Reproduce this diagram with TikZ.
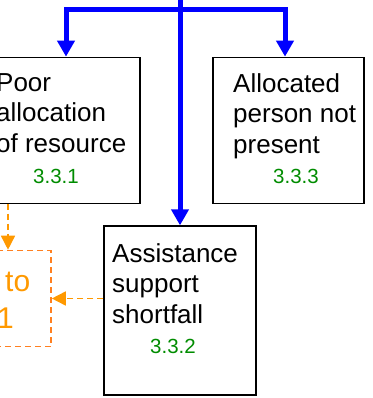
\documentclass[tikz,border=0pt]{standalone}
\usepackage{fontspec}
\setmainfont{Liberation Sans}
\usetikzlibrary{arrows.meta}
\definecolor{flowblue}{RGB}{0,0,255}
\definecolor{refgreen}{RGB}{0,140,0}
\definecolor{linkorange}{RGB}{255,153,0}
\definecolor{linkedge}{RGB}{255,128,32}
\begin{document}
\begin{tikzpicture}[x=1pt,y=-1pt,
    cause/.style={draw, line width=1.3pt, inner sep=0pt},
    linkbox/.style={draw=linkedge, line width=1.6pt, dash pattern=on 6pt off 4pt, inner sep=0pt},
    body/.style={anchor=north west, align=left, inner sep=0pt, font=\fontsize{26}{30.5}\selectfont},
    refno/.style={anchor=base, inner sep=0pt, text=refgreen, font=\fontsize{20.5}{24}\selectfont},
    reftxt/.style={anchor=base west, inner sep=0pt, text=linkorange, font=\fontsize{30}{36}\selectfont},
    flow/.style={draw=flowblue, line width=5pt, -{Triangle[width=17pt,length=16pt]}},
    link/.style={draw=linkorange, line width=1.6pt, dash pattern=on 6pt off 4pt, -{Triangle[width=14pt,length=14pt]}}]
  \useasboundingbox (0,0) rectangle (372,398);
  \clip (0,0) rectangle (372,398);

  % cause boxes
  \node[cause, minimum width=148pt, minimum height=146pt] (poor) at (66,130.3) {};
  \node[cause, minimum width=151pt, minimum height=146pt] (absent) at (288.5,130.3) {};
  \node[cause, minimum width=152pt, minimum height=169pt] (assist) at (180,310.5) {};
  \node[linkbox, minimum width=86pt, minimum height=96pt] (refer) at (8,298.5) {};

  \node[body] (poortxt) at (-4,73) {Poor\\allocation\\of resource};
  \node[refno] (poorno) at (56,183) {3.3.1};
  \node[body] (absenttxt) at (233,73) {Allocated\\person not\\present};
  \node[refno] (absentno) at (296,183) {3.3.3};
  \node[body] (assisttxt) at (112,243) {Assistance\\support\\shortfall};
  \node[refno] (assistno) at (173,353) {3.3.2};
  \node[reftxt] (refera) at (5,291) {to};
  \node[reftxt] (referb) at (-3,328) {1};

  % blue flow from above
  \coordinate (src) at (180,-10);
  \coordinate (fork) at (180,10);
  \draw[flow] (src) -- (assist);
  \draw[flow] (fork) -| (poor);
  \draw[flow] (fork) -| ([xshift=-3.5pt]absent.north);

  % dashed links
  \draw[link] (poor.south -| refer.north) -- (refer.north);
  \draw[link] (assist.west |- refer.east) -- (refer.east);
\end{tikzpicture}
\end{document}
